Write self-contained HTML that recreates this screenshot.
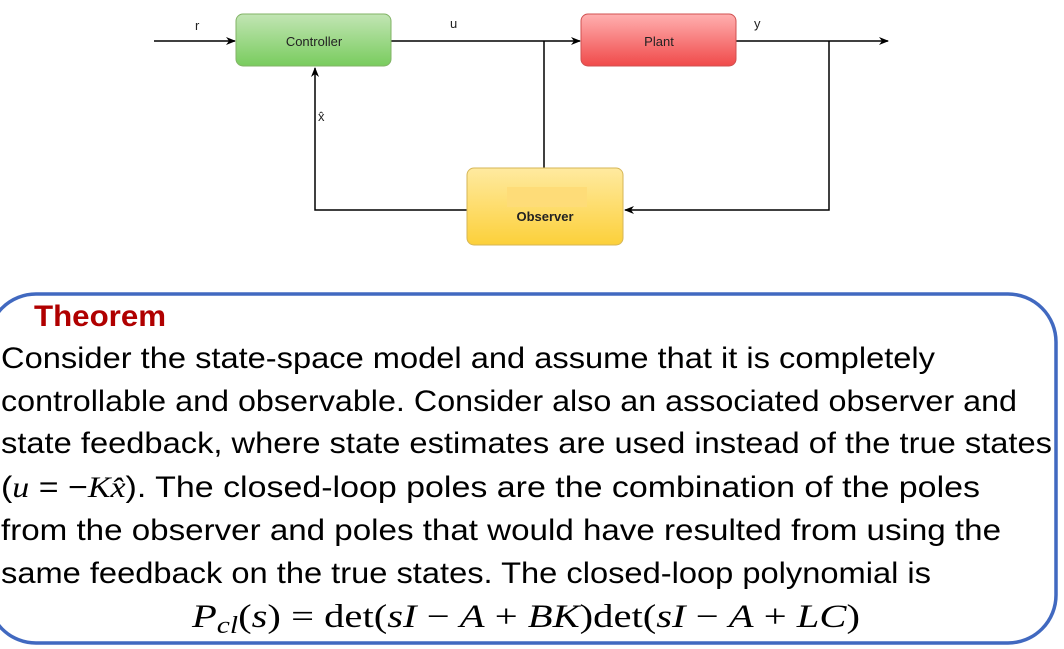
<!DOCTYPE html>
<html><head><meta charset="utf-8"><style>
html,body{margin:0;padding:0;background:#fff;width:1064px;height:649px;overflow:hidden}
svg{display:block}
.t{font-family:"Liberation Sans",sans-serif;font-size:30px;fill:#000}
.m{font-family:"Liberation Serif",serif;font-size:33px;fill:#000}
.lbl{font-family:"Liberation Sans",sans-serif;font-size:13px;fill:#222}
</style></head><body>
<svg width="1064" height="649" viewBox="0 0 1064 649">
<defs>
<linearGradient id="gg" x1="0" y1="0" x2="0" y2="1"><stop offset="0" stop-color="#c2e5b4"/><stop offset="1" stop-color="#79cc5e"/></linearGradient>
<linearGradient id="rg" x1="0" y1="0" x2="0" y2="1"><stop offset="0" stop-color="#ffb0b0"/><stop offset="1" stop-color="#f04a4a"/></linearGradient>
<linearGradient id="yg" x1="0" y1="0" x2="0" y2="1"><stop offset="0" stop-color="#ffeaa0"/><stop offset="1" stop-color="#fcd03a"/></linearGradient>
<marker id="ar" markerWidth="10" markerHeight="10" refX="9" refY="5" orient="auto" markerUnits="userSpaceOnUse"><path d="M0,1 L10,5 L0,9 L3,5 Z" fill="#000"/></marker>
</defs>
<g stroke="#000" stroke-width="1.5" fill="none">
<line x1="154" y1="41" x2="235" y2="41" marker-end="url(#ar)"/>
<line x1="391" y1="41" x2="580" y2="41" marker-end="url(#ar)"/>
<line x1="544" y1="41" x2="544" y2="168"/>
<line x1="736" y1="41" x2="888" y2="41" marker-end="url(#ar)"/>
<polyline points="829,41 829,210 625,210" marker-end="url(#ar)"/>
<polyline points="467,210 315,210 315,68" marker-end="url(#ar)"/>
</g>
<rect x="236" y="14" width="155" height="52" rx="7" fill="url(#gg)" stroke="#82b366"/>
<text x="314" y="46" text-anchor="middle" class="lbl">Controller</text>
<rect x="581" y="14" width="155" height="52" rx="7" fill="url(#rg)" stroke="#d05050"/>
<text x="659" y="46" text-anchor="middle" class="lbl">Plant</text>
<rect x="467" y="168" width="156" height="77" rx="7" fill="url(#yg)" stroke="#d6b656"/>
<rect x="507" y="187" width="80" height="20" fill="#fedc78"/>
<text x="545" y="221" text-anchor="middle" class="lbl" font-weight="bold">Observer</text>
<text x="195" y="30" class="lbl">r</text>
<text x="450" y="28" class="lbl">u</text>
<text x="754" y="28" class="lbl">y</text>
<text x="318" y="121" class="lbl">x̂</text>

<rect x="-12" y="294" width="1068" height="349" rx="48" fill="none" stroke="#4169c0" stroke-width="3.5"/>
<text x="34" y="326" font-family="Liberation Sans,sans-serif" font-weight="bold" font-size="30" fill="#b00000" textLength="132" lengthAdjust="spacingAndGlyphs">Theorem</text>
<g>
<text x="1" y="368" class="t" textLength="934" lengthAdjust="spacingAndGlyphs">Consider the state-space model and assume that it is completely</text>
<text x="1" y="411" class="t" textLength="1016" lengthAdjust="spacingAndGlyphs">controllable and observable. Consider also an associated observer and</text>
<text x="1" y="453" class="t" textLength="1051" lengthAdjust="spacingAndGlyphs">state feedback, where state estimates are used instead of the true states</text>
<text x="1" y="497" class="t" textLength="979" lengthAdjust="spacingAndGlyphs">(<tspan font-family="Liberation Serif,serif" font-style="italic">u</tspan> = −<tspan font-family="Liberation Serif,serif" font-style="italic">K</tspan><tspan font-family="Liberation Serif,serif" font-style="italic">x̂</tspan>). The closed-loop poles are the combination of the poles</text>
<text x="1" y="540" class="t" textLength="1000" lengthAdjust="spacingAndGlyphs">from the observer and poles that would have resulted from using the</text>
<text x="1" y="583" class="t" textLength="930" lengthAdjust="spacingAndGlyphs">same feedback on the true states. The closed-loop polynomial is</text>
<text x="192" y="627" class="m" textLength="668" lengthAdjust="spacingAndGlyphs"><tspan font-style="italic">P</tspan><tspan font-style="italic" font-size="24" dy="6">cl</tspan><tspan dy="-6">(</tspan><tspan font-style="italic">s</tspan>) = det(<tspan font-style="italic">sI</tspan> − <tspan font-style="italic">A</tspan> + <tspan font-style="italic">BK</tspan>)det(<tspan font-style="italic">sI</tspan> − <tspan font-style="italic">A</tspan> + <tspan font-style="italic">LC</tspan>)</text>
</g>
</svg>
</body></html>
